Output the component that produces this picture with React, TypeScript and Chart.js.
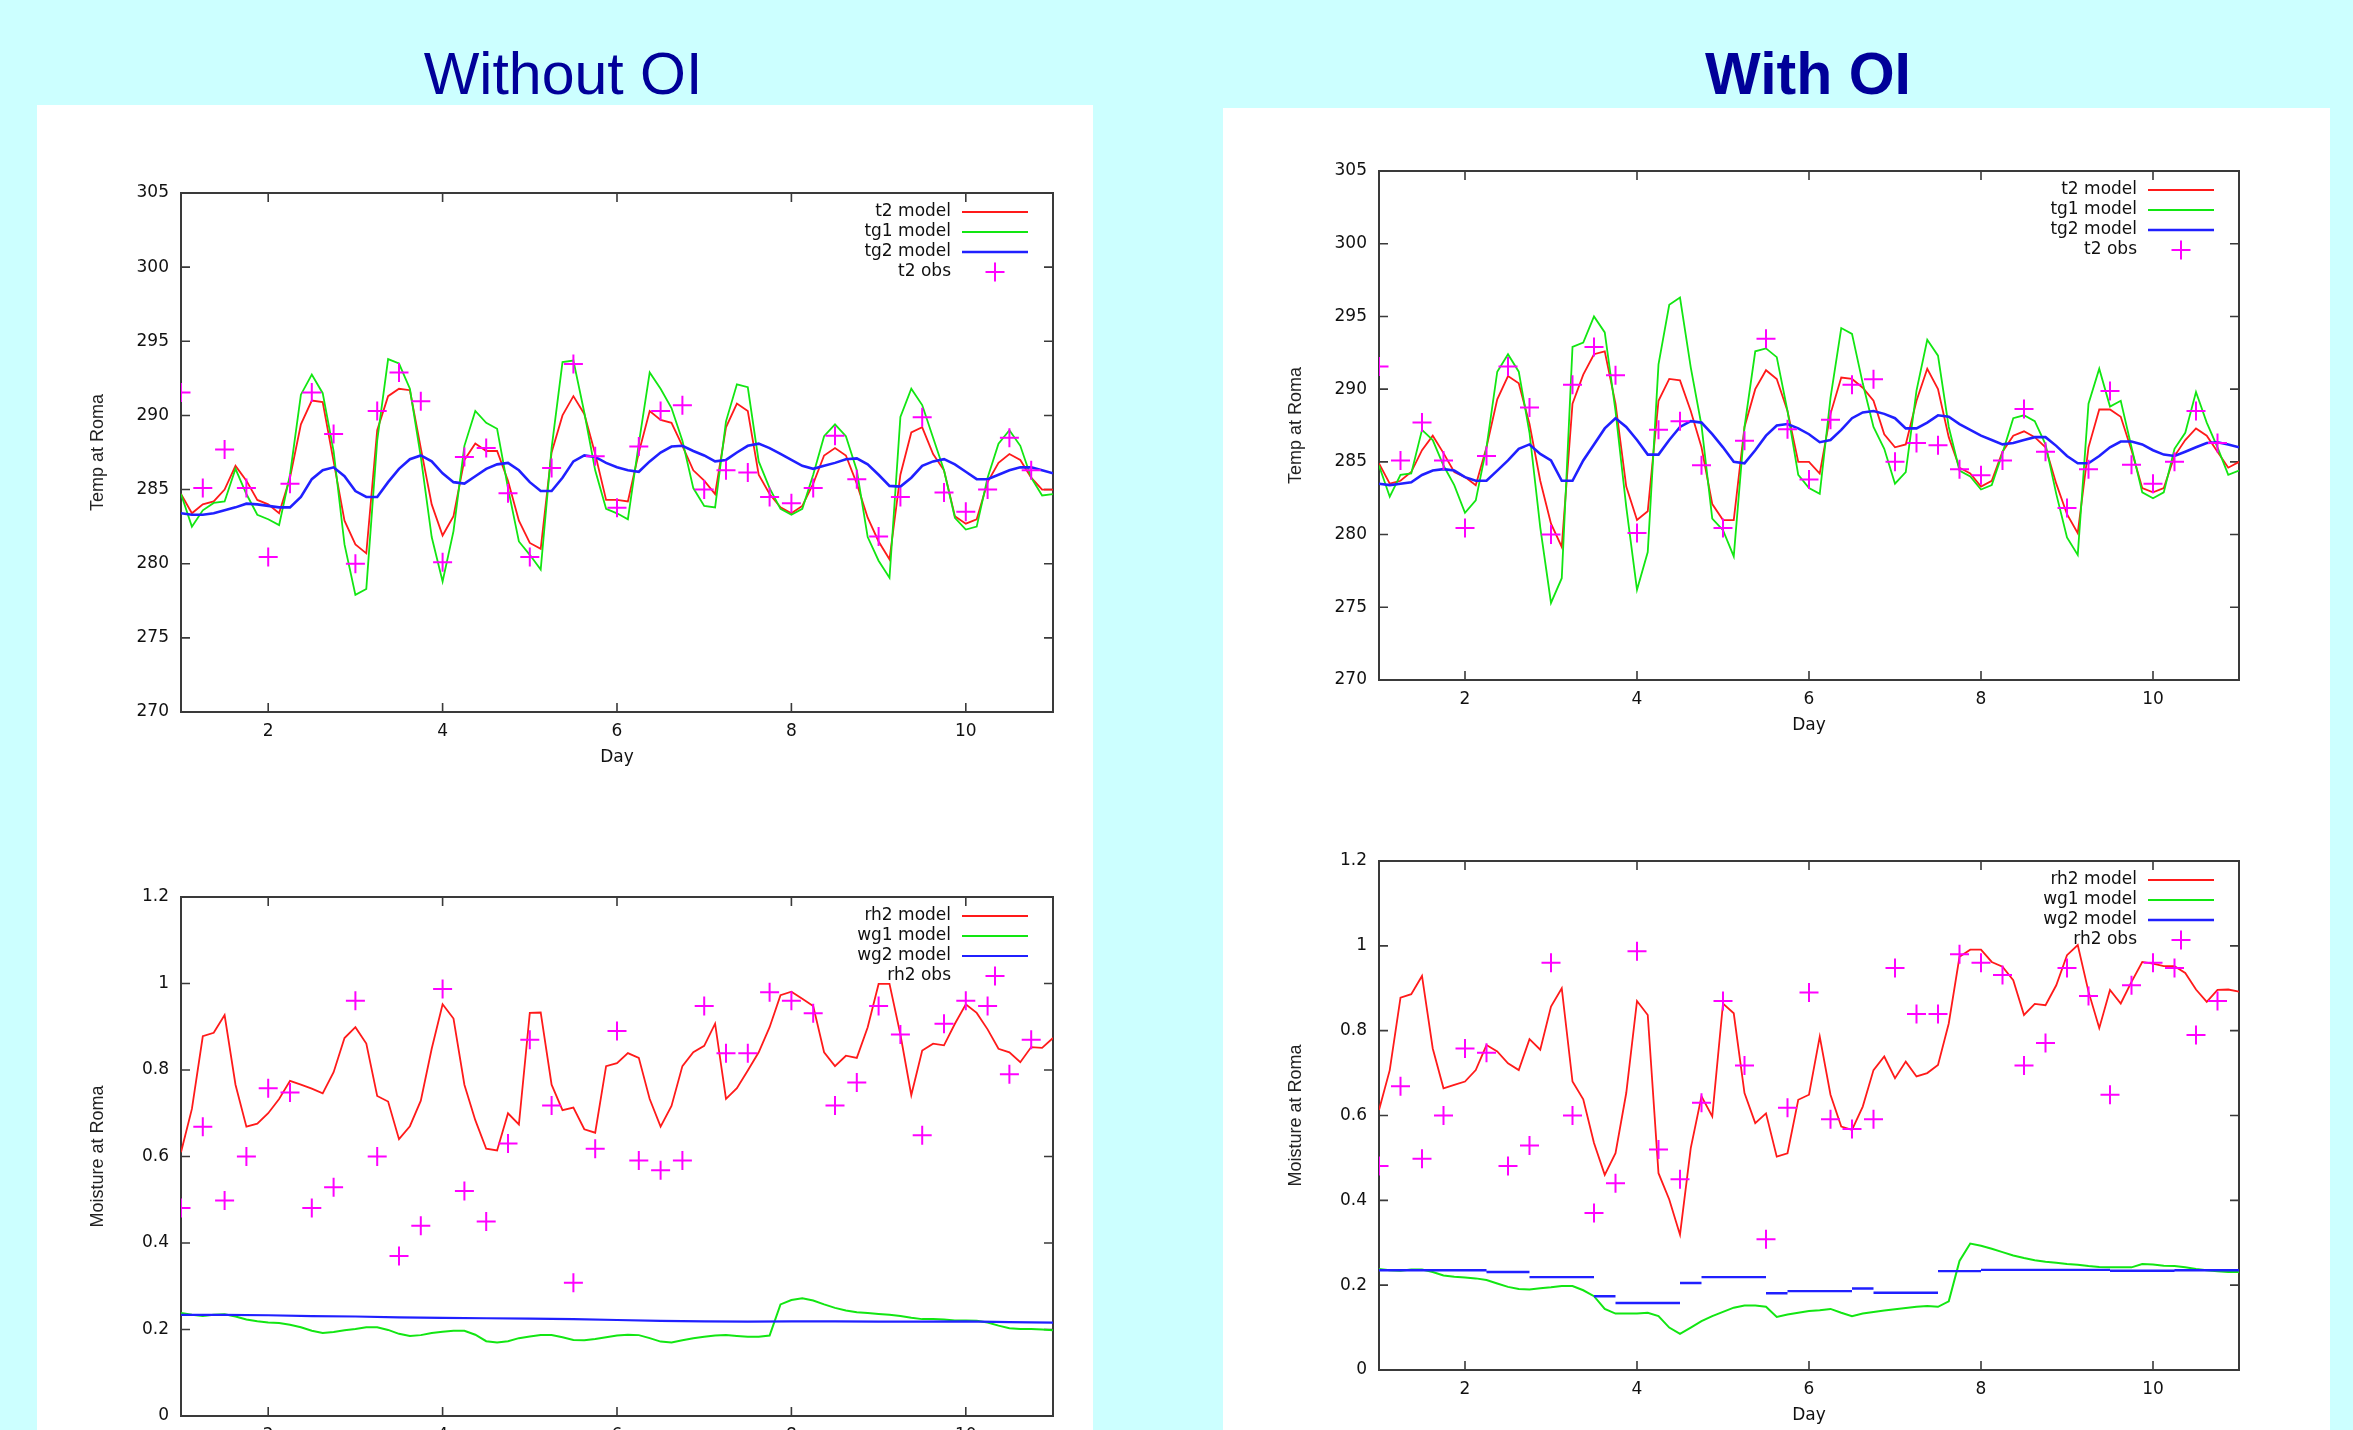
import React, { useEffect, useRef } from "react";
import { Chart, registerables } from "chart.js";

Chart.register(...registerables);

// ---------- axes / categories ----------
const DAYS = [
  1, 1.125, 1.25, 1.375, 1.5, 1.625, 1.75, 1.875,
  2, 2.125, 2.25, 2.375, 2.5, 2.625, 2.75, 2.875,
  3, 3.125, 3.25, 3.375, 3.5, 3.625, 3.75, 3.875,
  4, 4.125, 4.25, 4.375, 4.5, 4.625, 4.75, 4.875,
  5, 5.125, 5.25, 5.375, 5.5, 5.625, 5.75, 5.875,
  6, 6.125, 6.25, 6.375, 6.5, 6.625, 6.75, 6.875,
  7, 7.125, 7.25, 7.375, 7.5, 7.625, 7.75, 7.875,
  8, 8.125, 8.25, 8.375, 8.5, 8.625, 8.75, 8.875,
  9, 9.125, 9.25, 9.375, 9.5, 9.625, 9.75, 9.875,
  10, 10.125, 10.25, 10.375, 10.5, 10.625, 10.75, 10.875,
  11,
];
const OBS_DAYS = [
  1, 1.25, 1.5, 1.75, 2, 2.25, 2.5, 2.75, 3, 3.25, 3.5, 3.75, 4, 4.25, 4.5, 4.75,
  5, 5.25, 5.5, 5.75, 6, 6.25, 6.5, 6.75, 7, 7.25, 7.5, 7.75, 8, 8.25, 8.5, 8.75,
  9, 9.25, 9.5, 9.75, 10, 10.25, 10.5, 10.75,
];
const HALF_DAYS = [1, 1.5, 2, 2.5, 3, 3.5, 4, 4.5, 5, 5.5, 6, 6.5, 7, 7.5, 8, 8.5, 9, 9.5, 10, 10.5, 11];

const X_TICKS = [2, 4, 6, 8, 10];
const TEMP_TICKS = [270, 275, 280, 285, 290, 295, 300, 305];
const MOIST_TICKS = [0, 0.2, 0.4, 0.6, 0.8, 1, 1.2];

// ---------- observations (same in both columns) ----------
const T2_OBS = [
  291.55, 285.1, 287.7, 285.1, 280.45, 285.4, 291.55, 288.74, 280.0, 290.3, 292.9, 290.95,
  280.1, 287.2, 287.8, 284.76, 280.45, 286.45, 293.47, 287.25, 283.78, 287.9, 290.3, 290.68,
  285.0, 286.3, 286.15, 284.5, 284.08, 285.1, 288.63, 285.7, 281.83, 284.5, 289.87, 284.8,
  283.5, 285.0, 288.5, 286.3,
];
const RH2_OBS = [
  0.481, 0.669, 0.498, 0.6, 0.758, 0.748, 0.481, 0.529, 0.96, 0.6, 0.37, 0.44,
  0.987, 0.52, 0.45, 0.63, 0.87, 0.718, 0.308, 0.618, 0.89, 0.591, 0.568, 0.591,
  0.948, 0.839, 0.839, 0.98, 0.96, 0.931, 0.718, 0.771, 0.948, 0.882, 0.649, 0.907,
  0.96, 0.948, 0.79, 0.87,
];

// ---------- Without OI: temperature ----------
const T2_NOOI = [
  284.7, 283.4, 284.0, 284.2, 285.0, 286.6, 285.6, 284.3,
  284.0, 283.4, 285.8, 289.4, 291.0, 290.9, 286.9, 282.9,
  281.3, 280.7, 289.0, 291.3, 291.8, 291.7, 287.8, 284.0,
  281.9, 283.2, 287.0, 288.1, 287.6, 287.6, 285.6, 282.9,
  281.4, 281.0, 287.5, 290.0, 291.3, 290.1, 287.4, 284.3,
  284.3, 284.2, 287.5, 290.3, 289.7, 289.5, 287.95, 286.3,
  285.6, 284.7, 289.2, 290.8, 290.3, 286.0, 284.7, 283.8,
  283.4, 283.9, 285.4, 287.3, 287.8, 287.3, 285.4, 283.1,
  281.5, 280.3, 286.0, 288.85, 289.2, 287.4, 286.3, 283.2,
  282.7, 283.0, 285.5, 286.8, 287.4, 287.0, 285.8, 285.0,
  285.0,
];
const TG1_NOOI = [
  284.7, 282.5, 283.6, 284.1, 284.2, 286.4, 284.7, 283.3,
  283.0, 282.6, 286.0, 291.4, 292.75, 291.5, 287.6, 281.3,
  277.9, 278.3, 288.3, 293.8, 293.5, 291.8, 287.2, 281.8,
  278.8, 282.2, 287.95, 290.3, 289.5, 289.1, 285.1, 281.5,
  280.6, 279.6, 287.8, 293.6, 293.7, 290.2, 286.3, 283.7,
  283.4, 283.0, 288.1, 292.9, 291.8, 290.5, 288.3, 285.1,
  283.9, 283.8, 289.6, 292.1, 291.9, 286.9, 285.1, 283.7,
  283.3, 283.7, 286.0, 288.6, 289.4, 288.6, 286.3, 281.8,
  280.2, 279.05, 289.9, 291.8, 290.7, 288.5, 286.3, 283.1,
  282.3, 282.5, 285.8, 288.1, 289.0, 287.95, 285.8, 284.6,
  284.7,
];
const TG2_NOOI = [
  283.4, 283.3, 283.3, 283.4, 283.6, 283.8, 284.05, 284.0,
  283.9, 283.8, 283.8, 284.5, 285.7, 286.3, 286.5, 285.9,
  284.9, 284.5, 284.5, 285.5, 286.4, 287.05, 287.3, 286.9,
  286.1, 285.5, 285.4, 285.9, 286.4, 286.7, 286.8, 286.3,
  285.5, 284.9, 284.9, 285.8, 286.9, 287.3, 287.2, 286.8,
  286.5, 286.3, 286.2, 286.9, 287.5, 287.9, 287.95, 287.6,
  287.3, 286.9, 287.0, 287.5, 287.95, 288.1, 287.8, 287.4,
  287.0, 286.6, 286.4, 286.6, 286.8, 287.05, 287.1, 286.7,
  286.0, 285.25, 285.2, 285.8, 286.6, 286.9, 287.05, 286.7,
  286.2, 285.7, 285.7, 286.0, 286.3, 286.5, 286.5, 286.3,
  286.1,
];

// ---------- With OI: temperature ----------
const T2_OI = [
  284.9, 283.5, 283.7, 284.3, 285.8, 286.8, 285.6, 284.3,
  283.95, 283.4, 286.0, 289.3, 290.9, 290.4, 287.6, 283.7,
  280.75, 279.15, 289.0, 291.0, 292.4, 292.6, 289.0, 283.3,
  281.0, 281.6, 289.2, 290.7, 290.6, 288.5, 286.0, 282.1,
  281.0, 281.0, 287.4, 290.0, 291.3, 290.7, 288.5, 285.0,
  285.0, 284.2, 288.3, 290.8, 290.7, 290.1, 289.2, 286.9,
  286.0, 286.2, 289.2, 291.4, 290.0, 286.7, 284.6, 284.2,
  283.3, 283.7, 285.7, 286.8, 287.1, 286.7, 286.0, 283.5,
  281.4, 280.1, 286.0, 288.6, 288.6, 288.1, 285.8, 283.2,
  282.9, 283.2, 285.4, 286.5, 287.3, 286.8, 285.7, 284.6,
  285.0,
];
const TG1_OI = [
  284.75, 282.6, 284.1, 284.2, 287.2, 286.5, 284.75, 283.4,
  281.5, 282.35, 286.0, 291.2, 292.4, 291.2, 287.0, 280.5,
  275.3, 277.0, 292.9, 293.2, 295.0, 293.9, 288.5, 281.9,
  276.2, 278.8, 291.7, 295.8, 296.3, 291.5, 287.5, 281.1,
  280.3, 278.5, 287.4, 292.6, 292.8, 292.2, 288.5, 284.1,
  283.2, 282.8, 289.4, 294.2, 293.8, 290.4, 287.4, 285.9,
  283.5, 284.3, 289.9, 293.4, 292.3, 287.4, 284.4, 284.0,
  283.1, 283.4, 285.6, 288.0, 288.2, 287.8, 286.2, 282.8,
  279.8, 278.6, 289.0, 291.4, 288.8, 289.2, 286.0, 282.9,
  282.5, 282.9, 285.9, 287.0, 289.8, 287.7, 286.0, 284.1,
  284.4,
];
const TG2_OI = [
  283.5, 283.4, 283.5, 283.6, 284.1, 284.4, 284.5, 284.4,
  283.95, 283.7, 283.7, 284.4, 285.1, 285.9, 286.2, 285.55,
  285.1, 283.7, 283.7, 285.1, 286.2, 287.3, 288.0, 287.4,
  286.5, 285.5, 285.5, 286.5, 287.4, 287.8, 287.7, 286.9,
  286.0, 285.0, 284.9, 285.8, 286.8, 287.5, 287.6, 287.3,
  286.9, 286.35, 286.5, 287.2, 288.0, 288.4, 288.5, 288.3,
  288.0, 287.3, 287.3, 287.7, 288.2, 288.1, 287.6, 287.2,
  286.8, 286.5, 286.2, 286.3, 286.5, 286.7, 286.7, 286.1,
  285.4, 284.9, 284.9, 285.4, 286.0, 286.4, 286.4, 286.2,
  285.8, 285.5, 285.4, 285.7, 286.0, 286.3, 286.35, 286.2,
  286.0,
];

// ---------- Without OI: moisture ----------
const RH2_NOOI = [
  0.61, 0.71, 0.878, 0.886, 0.927, 0.766, 0.669, 0.676,
  0.7, 0.733, 0.775, 0.766, 0.757, 0.746, 0.795, 0.874,
  0.899, 0.861, 0.74, 0.727, 0.64, 0.67, 0.729, 0.849,
  0.952, 0.919, 0.766, 0.684, 0.618, 0.614, 0.7, 0.674,
  0.932, 0.933, 0.766, 0.707, 0.713, 0.663, 0.655, 0.809,
  0.816, 0.839, 0.828, 0.733, 0.669, 0.717, 0.809, 0.841,
  0.856, 0.907, 0.733, 0.758, 0.799, 0.841, 0.899, 0.973,
  0.981, 0.965, 0.948, 0.841, 0.809, 0.833, 0.828, 0.899,
  0.999, 0.999, 0.882, 0.742, 0.845, 0.861, 0.857, 0.907,
  0.952, 0.932, 0.894, 0.849, 0.841, 0.818, 0.853, 0.851,
  0.874,
];
const WG1_NOOI = [
  0.238, 0.234, 0.231, 0.234, 0.235, 0.23, 0.223, 0.219,
  0.216, 0.215, 0.211, 0.205, 0.197, 0.192, 0.194, 0.198,
  0.201, 0.205, 0.205, 0.199, 0.19, 0.185, 0.187, 0.192,
  0.195, 0.197, 0.197, 0.188, 0.173, 0.17, 0.173, 0.18,
  0.184, 0.187, 0.187, 0.182, 0.176, 0.175, 0.178, 0.182,
  0.186, 0.188, 0.187, 0.18, 0.172, 0.17, 0.175, 0.18,
  0.183, 0.186, 0.187, 0.185, 0.183, 0.183, 0.186, 0.258,
  0.268, 0.272, 0.267, 0.258, 0.25, 0.244, 0.24, 0.238,
  0.236, 0.234, 0.231, 0.227, 0.224, 0.224, 0.223, 0.221,
  0.221, 0.22, 0.216, 0.209, 0.203, 0.201, 0.201, 0.2,
  0.198,
];
const WG2_NOOI = [
  0.234, 0.234, 0.233, 0.231, 0.23, 0.228, 0.227, 0.226, 0.225, 0.224, 0.222,
  0.22, 0.219, 0.218, 0.219, 0.219, 0.218, 0.218, 0.219, 0.217, 0.216,
];

// ---------- With OI: moisture ----------
const RH2_OI = [
  0.613, 0.707, 0.878, 0.886, 0.929, 0.758, 0.664, 0.672,
  0.68, 0.707, 0.766, 0.751, 0.723, 0.707, 0.78, 0.755,
  0.857, 0.9, 0.68, 0.638, 0.535, 0.46, 0.511, 0.653,
  0.87, 0.837, 0.464, 0.402, 0.319, 0.523, 0.645, 0.598,
  0.864, 0.841, 0.653, 0.582, 0.605, 0.503, 0.511, 0.637,
  0.649, 0.786, 0.649, 0.574, 0.566, 0.621, 0.707, 0.739,
  0.688, 0.727, 0.692, 0.7, 0.719, 0.817, 0.974, 0.991,
  0.991, 0.962, 0.951, 0.919, 0.837, 0.863, 0.86, 0.907,
  0.978, 1.002, 0.892, 0.806, 0.896, 0.864, 0.915, 0.962,
  0.958, 0.952, 0.952, 0.936, 0.897, 0.868, 0.896, 0.897,
  0.892,
];
const WG1_OI = [
  0.238, 0.235, 0.234, 0.237, 0.237, 0.231, 0.223, 0.22,
  0.218, 0.216, 0.212, 0.204, 0.196, 0.191, 0.19, 0.193,
  0.195, 0.198, 0.198, 0.188, 0.174, 0.144, 0.133, 0.133,
  0.133, 0.135, 0.127, 0.1, 0.085, 0.1, 0.115, 0.127,
  0.137, 0.147, 0.152, 0.152, 0.149, 0.125, 0.131, 0.135,
  0.139, 0.141, 0.144, 0.135, 0.127, 0.133, 0.137, 0.14,
  0.143, 0.146, 0.149, 0.151, 0.149, 0.162, 0.257, 0.298,
  0.293, 0.286, 0.278, 0.27, 0.264, 0.259, 0.255, 0.253,
  0.25, 0.248, 0.245, 0.243, 0.242, 0.242, 0.242, 0.25,
  0.249, 0.246, 0.245, 0.242, 0.238, 0.235, 0.233, 0.231,
  0.231,
];
// wg2 with OI is piecewise constant (reset at each analysis)
const WG2_OI_START = [1, 2.25, 2.75, 3.5, 3.75, 4.5, 4.75, 5.5, 5.75, 6.5, 6.75, 7.5, 8, 9.5, 10.25];
const WG2_OI_END = [2.25, 2.75, 3.5, 3.75, 4.5, 4.75, 5.5, 5.75, 6.5, 6.75, 7.5, 8, 9.5, 10.25, 11];
const WG2_OI_VAL = [0.235, 0.231, 0.219, 0.174, 0.158, 0.205, 0.219, 0.181, 0.186, 0.192, 0.182, 0.233, 0.236, 0.234, 0.235];

// ---------- styles ----------
const RED = "#ff1a1a";
const GREEN = "#12e612";
const BLUE = "#2020ff";
const MAGENTA = "#ff00ff";
const TICK_FONT = "DejaVu Sans";
const TITLE_FONT = "Liberation Sans";
const AXIS_W = 94;
const AXIS_H = 56;
const PAD_T = 30;
const PAD_R = 20;

const lineDs = (label: string, xs: number[], ys: number[], color: string, width: number, order: number) => ({
  label,
  data: xs.map((x, i) => ({ x, y: ys[i] })),
  borderColor: color,
  backgroundColor: color,
  borderWidth: width,
  pointRadius: 0,
  fill: false,
  tension: 0,
  clip: 0,
  order,
});

const stepDs = (label: string, starts: number[], ends: number[], vals: number[], color: string, width: number, order: number) => ({
  label,
  data: starts.flatMap((s, i) => [
    { x: s, y: vals[i] },
    { x: ends[i], y: vals[i] },
    { x: ends[i], y: null },
  ]),
  borderColor: color,
  backgroundColor: color,
  borderWidth: width,
  pointRadius: 0,
  fill: false,
  tension: 0,
  spanGaps: false,
  clip: 0,
  order,
});

const obsDs = (label: string, xs: number[], ys: number[]) => ({
  label,
  data: xs.map((x, i) => ({ x, y: ys[i] })),
  showLine: false,
  pointStyle: "cross",
  pointRadius: 9.5,
  pointBorderWidth: 2,
  borderColor: MAGENTA,
  backgroundColor: MAGENTA,
  pointBorderColor: MAGENTA,
  clip: 0,
  order: 0,
});

type Spec = {
  area: { left: number; top: number; width: number; height: number };
  yMin: number;
  yMax: number;
  yTicks: number[];
  yTitle: string;
  datasets: any[];
};

const SPECS: Spec[] = [
  {
    area: { left: 181, top: 193, width: 872, height: 519 },
    yMin: 270, yMax: 305, yTicks: TEMP_TICKS, yTitle: "Temp at Roma",
    datasets: [
      lineDs("t2 model", DAYS, T2_NOOI, RED, 1.8, 3),
      lineDs("tg1 model", DAYS, TG1_NOOI, GREEN, 1.8, 2),
      lineDs("tg2 model", DAYS, TG2_NOOI, BLUE, 2.6, 1),
      obsDs("t2 obs", OBS_DAYS, T2_OBS),
    ],
  },
  {
    area: { left: 181, top: 897, width: 872, height: 519 },
    yMin: 0, yMax: 1.2, yTicks: MOIST_TICKS, yTitle: "Moisture at Roma",
    datasets: [
      lineDs("rh2 model", DAYS, RH2_NOOI, RED, 1.8, 3),
      lineDs("wg1 model", DAYS, WG1_NOOI, GREEN, 2, 2),
      lineDs("wg2 model", HALF_DAYS, WG2_NOOI, BLUE, 2.2, 1),
      obsDs("rh2 obs", OBS_DAYS, RH2_OBS),
    ],
  },
  {
    area: { left: 1379, top: 171, width: 860, height: 509 },
    yMin: 270, yMax: 305, yTicks: TEMP_TICKS, yTitle: "Temp at Roma",
    datasets: [
      lineDs("t2 model", DAYS, T2_OI, RED, 1.8, 3),
      lineDs("tg1 model", DAYS, TG1_OI, GREEN, 1.8, 2),
      lineDs("tg2 model", DAYS, TG2_OI, BLUE, 2.6, 1),
      obsDs("t2 obs", OBS_DAYS, T2_OBS),
    ],
  },
  {
    area: { left: 1379, top: 861, width: 860, height: 509 },
    yMin: 0, yMax: 1.2, yTicks: MOIST_TICKS, yTitle: "Moisture at Roma",
    datasets: [
      lineDs("rh2 model", DAYS, RH2_OI, RED, 1.8, 3),
      lineDs("wg1 model", DAYS, WG1_OI, GREEN, 2, 2),
      stepDs("wg2 model", WG2_OI_START, WG2_OI_END, WG2_OI_VAL, BLUE, 2.4, 1),
      obsDs("rh2 obs", OBS_DAYS, RH2_OBS),
    ],
  },
];

function makeFramePlugin(yTicks: number[]) {
  return {
    id: "gnuFrame",
    beforeDatasetsDraw(chart: any) {
      const { ctx, chartArea: a, scales } = chart;
      ctx.save();
      ctx.strokeStyle = "#3a3a3a";
      ctx.lineWidth = 2;
      ctx.strokeRect(a.left, a.top, a.right - a.left, a.bottom - a.top);
      ctx.lineWidth = 1.6;
      ctx.beginPath();
      for (const v of X_TICKS) {
        const p = scales.x.getPixelForValue(v);
        ctx.moveTo(p, a.bottom);
        ctx.lineTo(p, a.bottom - 9);
        ctx.moveTo(p, a.top);
        ctx.lineTo(p, a.top + 9);
      }
      for (const v of yTicks) {
        const p = scales.y.getPixelForValue(v);
        ctx.moveTo(a.left, p);
        ctx.lineTo(a.left + 9, p);
        ctx.moveTo(a.right, p);
        ctx.lineTo(a.right - 9, p);
      }
      ctx.stroke();
      ctx.restore();
    },
    afterDatasetsDraw(chart: any) {
      const { ctx, chartArea: a } = chart;
      ctx.save();
      ctx.font = `17px "${TICK_FONT}"`;
      ctx.textAlign = "right";
      ctx.textBaseline = "middle";
      chart.data.datasets.forEach((ds: any, i: number) => {
        const y = a.top + 19 + i * 20;
        ctx.fillStyle = "#111";
        ctx.fillText(ds.label, a.right - 102, y);
        ctx.strokeStyle = ds.borderColor;
        ctx.beginPath();
        if (ds.showLine === false) {
          ctx.lineWidth = 2;
          const cx = a.right - 58;
          ctx.moveTo(cx - 9.5, y);
          ctx.lineTo(cx + 9.5, y);
          ctx.moveTo(cx, y - 9.5);
          ctx.lineTo(cx, y + 9.5);
        } else {
          ctx.lineWidth = ds.borderWidth;
          ctx.moveTo(a.right - 91, y);
          ctx.lineTo(a.right - 25, y);
        }
        ctx.stroke();
      });
      ctx.restore();
    },
  };
}

function buildConfig(spec: Spec): any {
  const tickFont = { family: TICK_FONT, size: 17 };
  return {
    type: "line",
    data: { datasets: spec.datasets },
    options: {
      responsive: false,
      animation: false,
      devicePixelRatio: 1,
      events: [],
      layout: { padding: { top: PAD_T, right: PAD_R, bottom: 0, left: 0 } },
      plugins: { legend: { display: false }, tooltip: { enabled: false } },
      scales: {
        x: {
          type: "linear",
          min: 1,
          max: 11,
          grid: { display: false, drawTicks: false },
          border: { display: false },
          afterBuildTicks: (s: any) => {
            s.ticks = X_TICKS.map((v) => ({ value: v }));
          },
          afterFit: (s: any) => {
            s.height = AXIS_H;
          },
          ticks: {
            padding: 9,
            color: "#111",
            font: tickFont,
            maxRotation: 0,
            autoSkip: false,
            callback: (v: any) => String(v),
          },
          title: { display: true, text: "Day", color: "#111", font: tickFont, padding: 0 },
        },
        y: {
          type: "linear",
          min: spec.yMin,
          max: spec.yMax,
          grid: { display: false, drawTicks: false },
          border: { display: false },
          afterBuildTicks: (s: any) => {
            s.ticks = spec.yTicks.map((v) => ({ value: v }));
          },
          afterFit: (s: any) => {
            s.width = AXIS_W;
          },
          ticks: {
            padding: 12,
            color: "#111",
            font: tickFont,
            autoSkip: false,
            callback: (v: any) => String(v),
          },
          title: {
            display: true,
            text: spec.yTitle,
            color: "#222",
            font: { family: TITLE_FONT, size: 18 },
            padding: 0,
          },
        },
      },
    },
    plugins: [makeFramePlugin(spec.yTicks)],
  };
}

function ChartBox({ spec }: { spec: Spec }) {
  const ref = useRef<HTMLCanvasElement>(null);
  useEffect(() => {
    const chart = new Chart(ref.current as HTMLCanvasElement, buildConfig(spec));
    return () => chart.destroy();
  }, [spec]);
  const { left, top, width, height } = spec.area;
  const cw = AXIS_W + width + PAD_R;
  const ch = PAD_T + height + AXIS_H;
  return (
    <canvas
      ref={ref}
      width={cw}
      height={ch}
      style={{ position: "absolute", left: left - AXIS_W, top: top - PAD_T, width: cw, height: ch }}
    />
  );
}

export default function App() {
  const titleStyle: React.CSSProperties = {
    position: "absolute",
    top: 45,
    width: 800,
    textAlign: "center",
    fontFamily: '"Liberation Sans", Arial, sans-serif',
    fontSize: 59,
    lineHeight: "59px",
    color: "#000099",
    whiteSpace: "nowrap",
  };
  return (
    <div
      style={{
        position: "fixed",
        left: 0,
        top: 0,
        width: 2353,
        height: 1430,
        background: "#ccffff",
        overflow: "hidden",
      }}
    >
      <div style={{ ...titleStyle, left: 563 - 400 }}>Without OI</div>
      <div style={{ ...titleStyle, left: 1808 - 400, fontWeight: "bold" }}>With OI</div>
      <div style={{ position: "absolute", left: 37, top: 105, width: 1056, height: 1330, background: "#ffffff" }} />
      <div style={{ position: "absolute", left: 1223, top: 108, width: 1107, height: 1330, background: "#ffffff" }} />
      {SPECS.map((s, i) => (
        <ChartBox key={i} spec={s} />
      ))}
    </div>
  );
}
